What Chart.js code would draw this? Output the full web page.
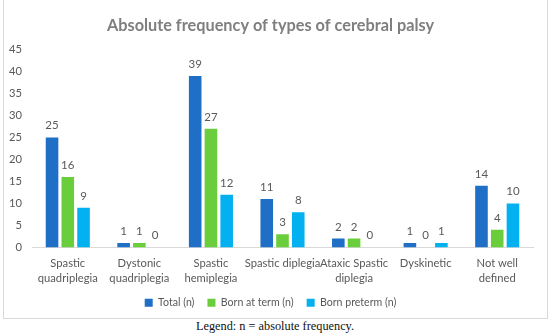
<!DOCTYPE html>
<html>
<head>
<meta charset="utf-8">
<script src="https://cdn.jsdelivr.net/npm/chart.js@4"></script>
<style>
  body { margin: 0; background: #fff; }
  #box { position: absolute; left: 3px; top: -1px; width: 543px; height: 318px; border: 1px solid #d9d9d9; }
  #cap { position: absolute; left: 0; top: 319px; width: 550px; text-align: center;
         font-family: "Liberation Serif", "DejaVu Serif", serif; font-size: 12.3px; color: #111; }
</style>
</head>
<body>
<div id="box"><canvas id="mycanvas" width="543" height="318"></canvas></div>
<div id="cap">Legend: n = absolute frequency.</div>
<script>
var categories = [["Spastic", "quadriplegia"], ["Dystonic", "quadriplegia"], ["Spastic", "hemiplegia"],
  "Spastic diplegia", ["Ataxic Spastic", "diplegia"], "Dyskinetic", ["Not well", "defined"]];
var total = [25, 1, 39, 11, 2, 1, 14];
var bornTerm = [16, 1, 27, 3, 2, 0, 4];
var bornPreterm = [9, 0, 12, 8, 0, 1, 10];
var yTicks = [0, 5, 10, 15, 20, 25, 30, 35, 40, 45];

var fontFam = "Lato, 'Open Sans', sans-serif";
var textGrey = '#595959';
var legendPad = 13;

// draw the value above each bar
var valueLabels = {
  id: 'valueLabels',
  afterDatasetsDraw: function(chart) {
    var ctx = chart.ctx;
    ctx.save();
    ctx.font = "11.5px " + fontFam;
    ctx.fillStyle = textGrey;
    ctx.textAlign = 'center';
    ctx.textBaseline = 'bottom';
    chart.data.datasets.forEach(function(ds, i) {
      chart.getDatasetMeta(i).data.forEach(function(bar, j) {
        ctx.fillText(ds.data[j], bar.x, bar.y - 6);
      });
    });
    ctx.restore();
  }
};

var chartdata = {
  labels: categories,
  datasets: [
    { label: 'Total (n)', backgroundColor: '#1f6fc6', data: total },
    { label: 'Born at term (n)', backgroundColor: '#6acd3c', data: bornTerm },
    { label: 'Born preterm (n)', backgroundColor: '#04b1f0', data: bornPreterm }
  ]
};

var ctx = document.getElementById('mycanvas');
var barGraph = new Chart(ctx, {
  type: 'bar',
  data: chartdata,
  plugins: [valueLabels],
  options: {
    responsive: false,
    animation: false,
    datasets: { bar: { categoryPercentage: 0.66, barPercentage: 0.8 } },
    layout: { padding: { top: 16, left: 4, right: 14, bottom: 0 } },
    plugins: {
      title: {
        display: true,
        text: 'Absolute frequency of types of cerebral palsy',
        color: '#7f7f7f',
        font: { family: fontFam, size: 16.3, weight: 'bold' },
        padding: { top: 0, bottom: 14 }
      },
      legend: {
        position: 'bottom',
        labels: {
          boxWidth: 8, boxHeight: 8, color: textGrey, padding: legendPad,
          font: { family: fontFam, size: 10.6 }
        }
      },
      tooltip: { enabled: false }
    },
    scales: {
      x: {
        grid: { display: false, drawTicks: false },
        border: { color: '#d9d9d9' },
        ticks: { color: textGrey, font: { family: fontFam, size: 11.2, lineHeight: 1.3 }, padding: 9, maxRotation: 0, autoSkip: false },
        afterFit: function(axis) {
          axis.paddingLeft = 0;
          axis.paddingRight = 0;
          axis.height = 50 - legendPad;
        }
      },
      y: {
        min: 0, max: 45,
        afterBuildTicks: function(axis) { axis.ticks = yTicks.map(function(v) { return { value: v }; }); },
        grid: { display: false, drawTicks: false },
        border: { display: false },
        ticks: { color: textGrey, font: { family: fontFam, size: 11.2 }, padding: 10 },
        afterFit: function(axis) { axis.width = 24; }
      }
    }
  }
});
</script>
</body>
</html>
